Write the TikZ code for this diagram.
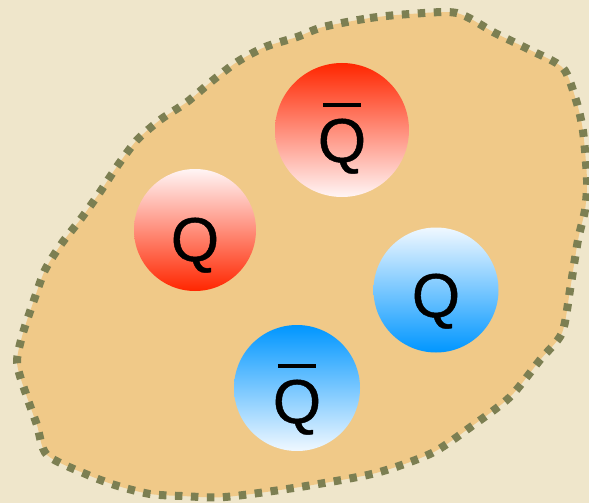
\documentclass[tikz,border=0pt]{standalone}
\usepackage{fontspec}
\setmainfont{Liberation Sans}
\newfontface\qfont[FakeBold=0.7]{Liberation Sans}
\definecolor{bgc}{RGB}{239,230,203}
\definecolor{blobfill}{RGB}{240,201,136}
\definecolor{blobline}{RGB}{124,127,82}
\definecolor{qred}{RGB}{255,38,0}
\definecolor{qredlight}{RGB}{255,245,245}
\definecolor{qblue}{RGB}{0,150,255}
\definecolor{qbluelight}{RGB}{240,248,255}
\newcommand\qbarsym{\makebox[0pt][l]{\hspace{5pt}\rule[55pt]{38pt}{4.5pt}}Q}
\tikzset{
  ball/.style={circle, draw=none, inner sep=0pt, text depth=0pt,
    font=\qfont\fontsize{62}{66}\selectfont, text=black},
  redup/.style={ball, top color=qred, bottom color=qredlight},
  reddown/.style={ball, top color=qredlight, bottom color=qred},
  blueup/.style={ball, top color=qblue, bottom color=qbluelight},
  bluedown/.style={ball, top color=qbluelight, bottom color=qblue},
  blob/.style={fill=blobfill, draw=blobline, line width=8pt,
    dash pattern=on 7.5pt off 8.5pt, line join=round}
}
\begin{document}
\begin{tikzpicture}[x=1pt,y=-1pt]
\fill[bgc] (0,0) rectangle (589,503);
\useasboundingbox (0,0) rectangle (589,503);
\draw[blob] plot[smooth cycle, tension=0.45] coordinates {
 (323,27) (370,18) (410,14) (457,13) (495,33) (530,50) (563,68)
 (576,100) (583,131) (587,180) (585,210) (578,240) (570,290) (562,333)
 (540,360) (510,397) (472,426) (432,453) (376,473) (300,487) (225,497)
 (182,496) (150,494) (118,486) (88,475) (47,455) (37,425) (27,397)
 (17,363) (23,333) (33,303) (45,270) (62,243) (80,220) (98,195)
 (118,165) (137,140) (160,120) (187,102) (212,81) (237,62) (265,47) (297,37)};
\node[redup, minimum size=134pt, text height=64pt] (rqb) at (342,130) {\qbarsym};
\node[reddown, minimum size=122pt, text height=62pt] (rq) at (195,230) {Q};
\node[bluedown, minimum size=125pt, text height=54pt] (bq) at (436,290) {Q};
\node[blueup, minimum size=126pt, text height=70pt] (bqb) at (297,388) {\qbarsym};
\end{tikzpicture}
\end{document}
